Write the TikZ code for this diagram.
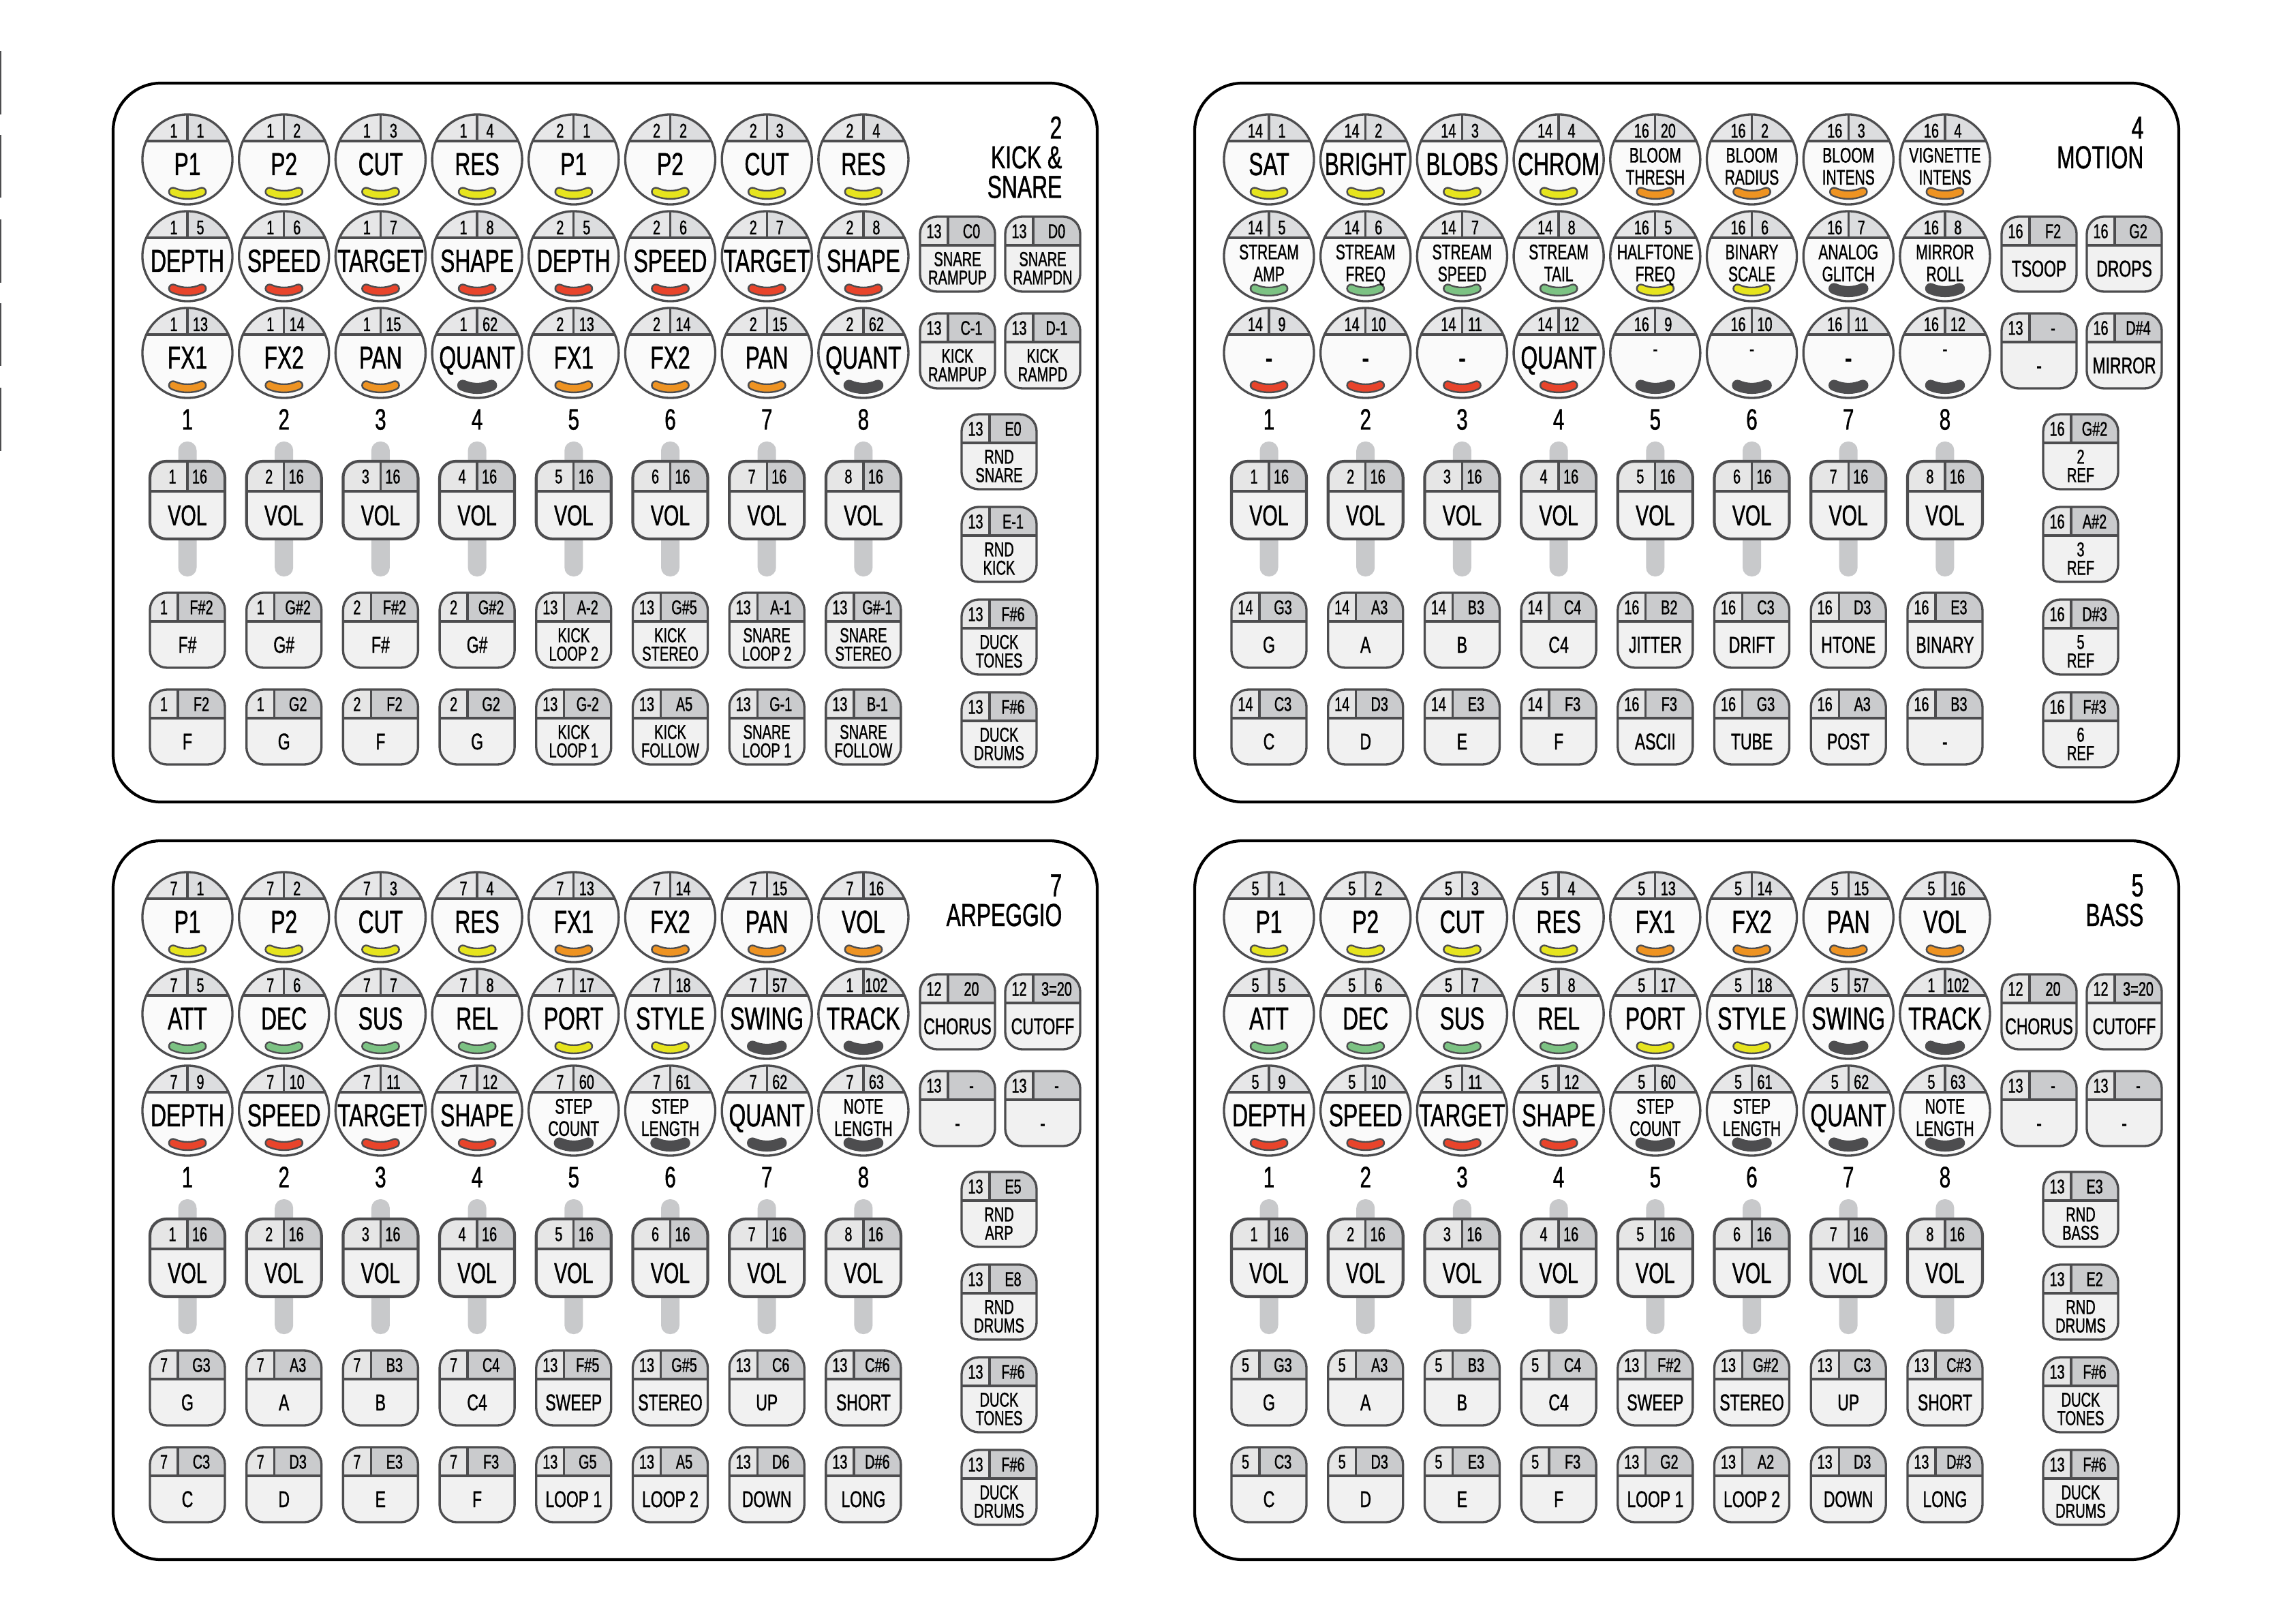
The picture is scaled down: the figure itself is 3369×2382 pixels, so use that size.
\documentclass[tikz,border=0pt]{standalone}
\usepackage{fontspec}
\setmainfont[FakeStretch=0.68,FakeBold=1.0]{Liberation Sans}
\definecolor{cline}{HTML}{4D4D4F}
\definecolor{ckbody}{HTML}{FAFAFA}
\definecolor{ckhl}{HTML}{E7E7E8}
\definecolor{ckhr}{HTML}{DCDDDF}
\definecolor{cbbody}{HTML}{F1F1F1}
\definecolor{cbhl}{HTML}{E6E6E6}
\definecolor{cbhr}{HTML}{CACBCD}
\definecolor{ctrack}{HTML}{C8C9CB}
\definecolor{cY}{HTML}{E6E41E}
\definecolor{cR}{HTML}{E8442B}
\definecolor{cO}{HTML}{EE9322}
\definecolor{cG}{HTML}{7CC283}
\definecolor{cK}{HTML}{4D4D4F}
\newcommand\fBig{\fontsize{13.3}{15}\selectfont}
\newcommand\fMid{\fontsize{8.8}{10}\selectfont}
\newcommand\fHdr{\fontsize{8.3}{9}\selectfont}
\newcommand\fBtn{\fontsize{9.6}{11}\selectfont}
\newcommand\fBtnS{\fontsize{8.4}{9}\selectfont}
\newcommand\fVol{\fontsize{12}{13}\selectfont}
\newcommand\fNum{\fontsize{12.3}{14}\selectfont}
\tikzset{
  kl/.style={draw=cline,line width=0.95pt},
  fl/.style={draw=cline,line width=1.2pt},
  panel/.style={draw=black,line width=1.2pt,rounded corners=0.7cm},
  arcout/.style={draw=cline,line width=4.1pt,line cap=round},
  arcin/.style={line width=2.7pt,line cap=round},
  arcdark/.style={draw=cline,line width=4.6pt,line cap=round}
}
\newcount\mynodeno
\newcommand\txt[5]{\global\advance\mynodeno by 1\relax
  \edef\nid{n\the\mynodeno}%
  \node[font=#1,anchor=#4,inner sep=0pt,text=black] (\nid) at (#2,#3) {#5};}
\def\myK{K}
% knob: col row left right color
\newcommand\knobbody[5]{%
  \pgfmathsetmacro\kX{275+141.7*(#1-1)}%
  \pgfmathsetmacro\kY{234+142*(#2-1)}%
  \begin{scope}
    \clip (\kX,\kY) circle[radius=0.66cm];
    \fill[ckbody] (\kX-70,\kY-70) rectangle (\kX+70,\kY+70);
    \fill[ckhl] (\kX-70,\kY-70) rectangle (\kX,\kY-27);
    \fill[ckhr] (\kX,\kY-70) rectangle (\kX+70,\kY-27);
    \draw[kl] (\kX-70,\kY-27) -- (\kX+70,\kY-27) (\kX,\kY-70) -- (\kX,\kY-27);
  \end{scope}
  \draw[kl] (\kX,\kY) circle[radius=0.66cm];
  \def\tmpc{#5}%
  \ifx\tmpc\myK
    \draw[arcdark] (\kX-21.1,\kY+47.5) arc[start angle=246,end angle=294,radius=0.52cm];
  \else
    \draw[arcout] (\kX-21.1,\kY+47.5) arc[start angle=246,end angle=294,radius=0.52cm];
    \draw[arcin,draw=c#5] (\kX-21.1,\kY+47.5) arc[start angle=246,end angle=294,radius=0.52cm];
  \fi
  \txt{\fHdr}{\kX-20}{\kY-32}{base}{#3}
  \txt{\fHdr}{\kX+19}{\kY-32}{base}{#4}
}
\newcommand\knobS[6]{\knobbody{#1}{#2}{#3}{#4}{#5}\txt{\fBig}{\kX}{\kY+23}{base}{#6}}
\newcommand\knobD[7]{\knobbody{#1}{#2}{#3}{#4}{#5}\txt{\fMid}{\kX}{\kY+4.5}{base}{#6}\txt{\fMid}{\kX}{\kY+37}{base}{#7}}
\newcommand\knobd[6]{\knobbody{#1}{#2}{#3}{#4}{#5}\txt{\fMid}{\kX}{\kY+4.5}{base}{#6}}
% button: X top left right
\newcommand\btnframe[4]{%
  \pgfmathsetmacro\bX{#1}%
  \pgfmathsetmacro\bT{#2}%
  \begin{scope}
    \clip[rounded corners=0.25cm] (\bX-55,\bT) rectangle (\bX+55,\bT+110);
    \fill[cbbody] (\bX-56,\bT-1) rectangle (\bX+56,\bT+111);
    \fill[cbhl] (\bX-56,\bT-1) rectangle (\bX-14,\bT+42);
    \fill[cbhr] (\bX-14,\bT-1) rectangle (\bX+56,\bT+42);
    \draw[kl] (\bX-56,\bT+42) -- (\bX+56,\bT+42) (\bX-14,\bT-1) -- (\bX-14,\bT+42);
  \end{scope}
  \draw[kl,rounded corners=0.25cm] (\bX-55,\bT) rectangle (\bX+55,\bT+110);
  \txt{\fHdr}{\bX-34.5}{\bT+31.5}{base}{#3}
  \txt{\fHdr}{\bX+20.5}{\bT+31.5}{base}{#4}
}
\newcommand\btnS[5]{\btnframe{#1}{#2}{#3}{#4}\txt{\fBtn}{\bX}{\bT+88}{base}{#5}}
\newcommand\btnD[6]{\btnframe{#1}{#2}{#3}{#4}\txt{\fBtnS}{\bX}{\bT+72.5}{base}{#5}\txt{\fBtnS}{\bX}{\bT+99.5}{base}{#6}}
% fader: X number
\newcommand\fader[2]{%
  \pgfmathsetmacro\fX{#1}%
  \fill[ctrack,rounded corners=0.13cm] (\fX-13.5,648) rectangle (\fX+13.5,846);
  \begin{scope}
    \clip[rounded corners=0.24cm] (\fX-55,677) rectangle (\fX+55,791);
    \fill[cbbody] (\fX-56,676) rectangle (\fX+56,792);
    \fill[cbhl] (\fX-56,676) rectangle (\fX,721);
    \fill[cbhr] (\fX,676) rectangle (\fX+56,721);
    \draw[kl] (\fX-56,721) -- (\fX+56,721) (\fX,676) -- (\fX,721);
  \end{scope}
  \draw[fl,rounded corners=0.24cm] (\fX-55,677) rectangle (\fX+55,791);
  \txt{\fHdr}{\fX-22}{709.5}{base}{#2}
  \txt{\fHdr}{\fX+18}{709.5}{base}{16}
  \txt{\fVol}{\fX}{771}{base}{VOL}
}
\newcommand\faders{%
  \foreach \i in {1,...,8}{%
    \pgfmathsetmacro\colX{275+141.7*(\i-1)}%
    \txt{\fNum}{\colX}{630.5}{base}{\i}%
    \fader{\colX}{\i}%
  }%
}
\begin{document}
\begin{tikzpicture}[x=0.01cm,y=-0.01cm]
\useasboundingbox (0,0) rectangle (3369,2382);
\fill[white] (0,0) rectangle (3369,2382);
% left edge marks
\fill[cline] (0,75) rectangle (2.5,168);
\fill[cline] (0,198) rectangle (2.5,290);
\fill[cline] (0,322) rectangle (2.5,415);
\fill[cline] (0,445) rectangle (2.5,537);
\fill[cline] (0,569) rectangle (2.5,662);

% ================= TOP LEFT: KICK & SNARE
\begin{scope}
\draw[panel] (166,122) rectangle (1610,1177);
\txt{\fBig}{1559}{203.5}{base east}{2}
\txt{\fBig}{1559}{247}{base east}{KICK \&}
\txt{\fBig}{1559}{290.5}{base east}{SNARE}
\knobS{1}{1}{1}{1}{Y}{P1}
\knobS{2}{1}{1}{2}{Y}{P2}
\knobS{3}{1}{1}{3}{Y}{CUT}
\knobS{4}{1}{1}{4}{Y}{RES}
\knobS{5}{1}{2}{1}{Y}{P1}
\knobS{6}{1}{2}{2}{Y}{P2}
\knobS{7}{1}{2}{3}{Y}{CUT}
\knobS{8}{1}{2}{4}{Y}{RES}
\knobS{1}{2}{1}{5}{R}{DEPTH}
\knobS{2}{2}{1}{6}{R}{SPEED}
\knobS{3}{2}{1}{7}{R}{TARGET}
\knobS{4}{2}{1}{8}{R}{SHAPE}
\knobS{5}{2}{2}{5}{R}{DEPTH}
\knobS{6}{2}{2}{6}{R}{SPEED}
\knobS{7}{2}{2}{7}{R}{TARGET}
\knobS{8}{2}{2}{8}{R}{SHAPE}
\knobS{1}{3}{1}{13}{O}{FX1}
\knobS{2}{3}{1}{14}{O}{FX2}
\knobS{3}{3}{1}{15}{O}{PAN}
\knobS{4}{3}{1}{62}{K}{QUANT}
\knobS{5}{3}{2}{13}{O}{FX1}
\knobS{6}{3}{2}{14}{O}{FX2}
\knobS{7}{3}{2}{15}{O}{PAN}
\knobS{8}{3}{2}{62}{K}{QUANT}
\btnD{1405}{318}{13}{C0}{SNARE}{RAMPUP}
\btnD{1530}{318}{13}{D0}{SNARE}{RAMPDN}
\btnD{1405}{460}{13}{C-1}{KICK}{RAMPUP}
\btnD{1530}{460}{13}{D-1}{KICK}{RAMPD}
\faders
\btnS{275}{870}{1}{F\#2}{F\#}
\btnS{416.7}{870}{1}{G\#2}{G\#}
\btnS{558.4}{870}{2}{F\#2}{F\#}
\btnS{700.1}{870}{2}{G\#2}{G\#}
\btnD{841.8}{870}{13}{A-2}{KICK}{LOOP 2}
\btnD{983.5}{870}{13}{G\#5}{KICK}{STEREO}
\btnD{1125.2}{870}{13}{A-1}{SNARE}{LOOP 2}
\btnD{1266.9}{870}{13}{G\#-1}{SNARE}{STEREO}
\btnS{275}{1012}{1}{F2}{F}
\btnS{416.7}{1012}{1}{G2}{G}
\btnS{558.4}{1012}{2}{F2}{F}
\btnS{700.1}{1012}{2}{G2}{G}
\btnD{841.8}{1012}{13}{G-2}{KICK}{LOOP 1}
\btnD{983.5}{1012}{13}{A5}{KICK}{FOLLOW}
\btnD{1125.2}{1012}{13}{G-1}{SNARE}{LOOP 1}
\btnD{1266.9}{1012}{13}{B-1}{SNARE}{FOLLOW}
\btnD{1466}{608}{13}{E0}{RND}{SNARE}
\btnD{1466}{744}{13}{E-1}{RND}{KICK}
\btnD{1466}{880}{13}{F\#6}{DUCK}{TONES}
\btnD{1466}{1016}{13}{F\#6}{DUCK}{DRUMS}
\end{scope}

% ================= TOP RIGHT: MOTION
\begin{scope}[shift={(1587,0)}]
\draw[panel] (166,122) rectangle (1610,1177);
\txt{\fBig}{1559}{203.5}{base east}{4}
\txt{\fBig}{1559}{247}{base east}{MOTION}
\knobS{1}{1}{14}{1}{Y}{SAT}
\knobS{2}{1}{14}{2}{Y}{BRIGHT}
\knobS{3}{1}{14}{3}{Y}{BLOBS}
\knobS{4}{1}{14}{4}{Y}{CHROM}
\knobD{5}{1}{16}{20}{O}{BLOOM}{THRESH}
\knobD{6}{1}{16}{2}{O}{BLOOM}{RADIUS}
\knobD{7}{1}{16}{3}{O}{BLOOM}{INTENS}
\knobD{8}{1}{16}{4}{O}{VIGNETTE}{INTENS}
\knobD{1}{2}{14}{5}{G}{STREAM}{AMP}
\knobD{2}{2}{14}{6}{G}{STREAM}{FREQ}
\knobD{3}{2}{14}{7}{G}{STREAM}{SPEED}
\knobD{4}{2}{14}{8}{G}{STREAM}{TAIL}
\knobD{5}{2}{16}{5}{Y}{HALFTONE}{FREQ}
\knobD{6}{2}{16}{6}{Y}{BINARY}{SCALE}
\knobD{7}{2}{16}{7}{K}{ANALOG}{GLITCH}
\knobD{8}{2}{16}{8}{K}{MIRROR}{ROLL}
\knobS{1}{3}{14}{9}{R}{-}
\knobS{2}{3}{14}{10}{R}{-}
\knobS{3}{3}{14}{11}{R}{-}
\knobS{4}{3}{14}{12}{R}{QUANT}
\knobd{5}{3}{16}{9}{K}{-}
\knobd{6}{3}{16}{10}{K}{-}
\knobS{7}{3}{16}{11}{K}{-}
\knobd{8}{3}{16}{12}{K}{-}
\btnS{1405}{318}{16}{F2}{TSOOP}
\btnS{1530}{318}{16}{G2}{DROPS}
\btnS{1405}{460}{13}{-}{-}
\btnS{1530}{460}{16}{D\#4}{MIRROR}
\faders
\btnS{275}{870}{14}{G3}{G}
\btnS{416.7}{870}{14}{A3}{A}
\btnS{558.4}{870}{14}{B3}{B}
\btnS{700.1}{870}{14}{C4}{C4}
\btnS{841.8}{870}{16}{B2}{JITTER}
\btnS{983.5}{870}{16}{C3}{DRIFT}
\btnS{1125.2}{870}{16}{D3}{HTONE}
\btnS{1266.9}{870}{16}{E3}{BINARY}
\btnS{275}{1012}{14}{C3}{C}
\btnS{416.7}{1012}{14}{D3}{D}
\btnS{558.4}{1012}{14}{E3}{E}
\btnS{700.1}{1012}{14}{F3}{F}
\btnS{841.8}{1012}{16}{F3}{ASCII}
\btnS{983.5}{1012}{16}{G3}{TUBE}
\btnS{1125.2}{1012}{16}{A3}{POST}
\btnS{1266.9}{1012}{16}{B3}{-}
\btnD{1466}{608}{16}{G\#2}{2}{REF}
\btnD{1466}{744}{16}{A\#2}{3}{REF}
\btnD{1466}{880}{16}{D\#3}{5}{REF}
\btnD{1466}{1016}{16}{F\#3}{6}{REF}
\end{scope}

% ================= BOTTOM LEFT: ARPEGGIO
\begin{scope}[shift={(0,1112)}]
\draw[panel] (166,122) rectangle (1610,1177);
\txt{\fBig}{1559}{203.5}{base east}{7}
\txt{\fBig}{1559}{247}{base east}{ARPEGGIO}
\knobS{1}{1}{7}{1}{Y}{P1}
\knobS{2}{1}{7}{2}{Y}{P2}
\knobS{3}{1}{7}{3}{Y}{CUT}
\knobS{4}{1}{7}{4}{Y}{RES}
\knobS{5}{1}{7}{13}{O}{FX1}
\knobS{6}{1}{7}{14}{O}{FX2}
\knobS{7}{1}{7}{15}{O}{PAN}
\knobS{8}{1}{7}{16}{O}{VOL}
\knobS{1}{2}{7}{5}{G}{ATT}
\knobS{2}{2}{7}{6}{G}{DEC}
\knobS{3}{2}{7}{7}{G}{SUS}
\knobS{4}{2}{7}{8}{G}{REL}
\knobS{5}{2}{7}{17}{Y}{PORT}
\knobS{6}{2}{7}{18}{Y}{STYLE}
\knobS{7}{2}{7}{57}{K}{SWING}
\knobS{8}{2}{1}{102}{K}{TRACK}
\knobS{1}{3}{7}{9}{R}{DEPTH}
\knobS{2}{3}{7}{10}{R}{SPEED}
\knobS{3}{3}{7}{11}{R}{TARGET}
\knobS{4}{3}{7}{12}{R}{SHAPE}
\knobD{5}{3}{7}{60}{K}{STEP}{COUNT}
\knobD{6}{3}{7}{61}{K}{STEP}{LENGTH}
\knobS{7}{3}{7}{62}{K}{QUANT}
\knobD{8}{3}{7}{63}{K}{NOTE}{LENGTH}
\btnS{1405}{318}{12}{20}{CHORUS}
\btnS{1530}{318}{12}{3=20}{CUTOFF}
\btnS{1405}{460}{13}{-}{-}
\btnS{1530}{460}{13}{-}{-}
\faders
\btnS{275}{870}{7}{G3}{G}
\btnS{416.7}{870}{7}{A3}{A}
\btnS{558.4}{870}{7}{B3}{B}
\btnS{700.1}{870}{7}{C4}{C4}
\btnS{841.8}{870}{13}{F\#5}{SWEEP}
\btnS{983.5}{870}{13}{G\#5}{STEREO}
\btnS{1125.2}{870}{13}{C6}{UP}
\btnS{1266.9}{870}{13}{C\#6}{SHORT}
\btnS{275}{1012}{7}{C3}{C}
\btnS{416.7}{1012}{7}{D3}{D}
\btnS{558.4}{1012}{7}{E3}{E}
\btnS{700.1}{1012}{7}{F3}{F}
\btnS{841.8}{1012}{13}{G5}{LOOP 1}
\btnS{983.5}{1012}{13}{A5}{LOOP 2}
\btnS{1125.2}{1012}{13}{D6}{DOWN}
\btnS{1266.9}{1012}{13}{D\#6}{LONG}
\btnD{1466}{608}{13}{E5}{RND}{ARP}
\btnD{1466}{744}{13}{E8}{RND}{DRUMS}
\btnD{1466}{880}{13}{F\#6}{DUCK}{TONES}
\btnD{1466}{1016}{13}{F\#6}{DUCK}{DRUMS}
\end{scope}

% ================= BOTTOM RIGHT: BASS
\begin{scope}[shift={(1587,1112)}]
\draw[panel] (166,122) rectangle (1610,1177);
\txt{\fBig}{1559}{203.5}{base east}{5}
\txt{\fBig}{1559}{247}{base east}{BASS}
\knobS{1}{1}{5}{1}{Y}{P1}
\knobS{2}{1}{5}{2}{Y}{P2}
\knobS{3}{1}{5}{3}{Y}{CUT}
\knobS{4}{1}{5}{4}{Y}{RES}
\knobS{5}{1}{5}{13}{O}{FX1}
\knobS{6}{1}{5}{14}{O}{FX2}
\knobS{7}{1}{5}{15}{O}{PAN}
\knobS{8}{1}{5}{16}{O}{VOL}
\knobS{1}{2}{5}{5}{G}{ATT}
\knobS{2}{2}{5}{6}{G}{DEC}
\knobS{3}{2}{5}{7}{G}{SUS}
\knobS{4}{2}{5}{8}{G}{REL}
\knobS{5}{2}{5}{17}{Y}{PORT}
\knobS{6}{2}{5}{18}{Y}{STYLE}
\knobS{7}{2}{5}{57}{K}{SWING}
\knobS{8}{2}{1}{102}{K}{TRACK}
\knobS{1}{3}{5}{9}{R}{DEPTH}
\knobS{2}{3}{5}{10}{R}{SPEED}
\knobS{3}{3}{5}{11}{R}{TARGET}
\knobS{4}{3}{5}{12}{R}{SHAPE}
\knobD{5}{3}{5}{60}{K}{STEP}{COUNT}
\knobD{6}{3}{5}{61}{K}{STEP}{LENGTH}
\knobS{7}{3}{5}{62}{K}{QUANT}
\knobD{8}{3}{5}{63}{K}{NOTE}{LENGTH}
\btnS{1405}{318}{12}{20}{CHORUS}
\btnS{1530}{318}{12}{3=20}{CUTOFF}
\btnS{1405}{460}{13}{-}{-}
\btnS{1530}{460}{13}{-}{-}
\faders
\btnS{275}{870}{5}{G3}{G}
\btnS{416.7}{870}{5}{A3}{A}
\btnS{558.4}{870}{5}{B3}{B}
\btnS{700.1}{870}{5}{C4}{C4}
\btnS{841.8}{870}{13}{F\#2}{SWEEP}
\btnS{983.5}{870}{13}{G\#2}{STEREO}
\btnS{1125.2}{870}{13}{C3}{UP}
\btnS{1266.9}{870}{13}{C\#3}{SHORT}
\btnS{275}{1012}{5}{C3}{C}
\btnS{416.7}{1012}{5}{D3}{D}
\btnS{558.4}{1012}{5}{E3}{E}
\btnS{700.1}{1012}{5}{F3}{F}
\btnS{841.8}{1012}{13}{G2}{LOOP 1}
\btnS{983.5}{1012}{13}{A2}{LOOP 2}
\btnS{1125.2}{1012}{13}{D3}{DOWN}
\btnS{1266.9}{1012}{13}{D\#3}{LONG}
\btnD{1466}{608}{13}{E3}{RND}{BASS}
\btnD{1466}{744}{13}{E2}{RND}{DRUMS}
\btnD{1466}{880}{13}{F\#6}{DUCK}{TONES}
\btnD{1466}{1016}{13}{F\#6}{DUCK}{DRUMS}
\end{scope}
\end{tikzpicture}
\end{document}
